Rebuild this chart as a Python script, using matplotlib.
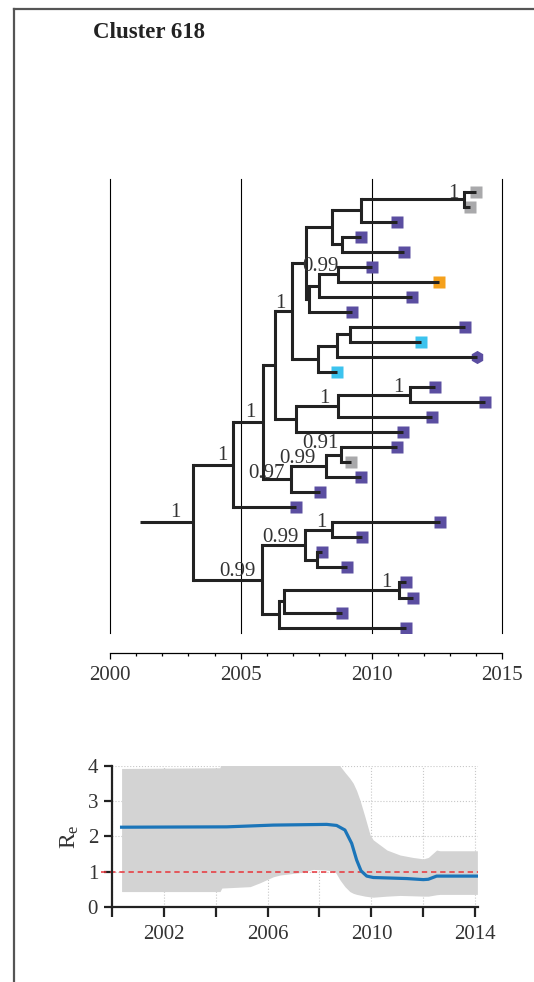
import matplotlib
matplotlib.use("Agg")
import matplotlib.pyplot as plt
import matplotlib.transforms as mtransforms
from matplotlib.lines import Line2D
from matplotlib.ticker import MultipleLocator

plt.rcParams['font.family'] = ['Liberation Serif', 'DejaVu Serif']
plt.rcParams['mathtext.default'] = 'regular'

# ---- tree data (tips listed top to bottom) ----
tip_dates = [2013.98, 2013.77, 2010.96, 2009.59, 2011.23, 2010.00, 2012.58, 2011.54,
             2009.24, 2013.58, 2011.88, 2014.02, 2008.69, 2012.43, 2014.34, 2012.30,
             2011.19, 2010.96, 2009.20, 2009.60, 2008.03, 2007.11, 2012.62, 2009.63,
             2008.10, 2009.05, 2011.32, 2011.58, 2008.86, 2011.32]
tip_groups = ['gray', 'gray', 'purple', 'purple', 'purple', 'purple', 'orange', 'purple',
              'purple', 'purple', 'cyan', 'hex', 'cyan', 'purple', 'purple', 'purple',
              'purple', 'purple', 'gray', 'purple', 'purple', 'purple', 'purple', 'purple',
              'purple', 'purple', 'purple', 'purple', 'purple', 'purple']

# internal nodes: (name, upper child, lower child, date, posterior support)
nodes = [
    ("A", "t0", "t1", 2013.54, "1"),
    ("B", "A", "t2", 2009.60, None),
    ("C", "t3", "t4", 2008.86, None),
    ("D", "B", "C", 2008.49, None),
    ("E", "t5", "t6", 2008.73, "0.99"),
    ("F", "E", "t7", 2008.00, None),
    ("G", "F", "t8", 2007.62, None),
    ("H", "D", "G", 2007.50, None),
    ("I", "t9", "t10", 2009.18, None),
    ("J", "I", "t11", 2008.69, None),
    ("K", "J", "t12", 2007.94, None),
    ("L", "H", "K", 2006.95, "1"),
    ("M", "t13", "t14", 2011.47, "1"),
    ("N", "M", "t15", 2008.70, "1"),
    ("O", "N", "t16", 2007.10, None),
    ("P", "L", "O", 2006.31, None),
    ("Q", "t17", "t18", 2008.82, "0.91"),
    ("R", "Q", "t19", 2008.26, "0.99"),
    ("S", "R", "t20", 2006.91, "0.97"),
    ("T", "P", "S", 2005.86, "1"),
    ("U", "T", "t21", 2004.71, "1"),
    ("V", "t22", "t23", 2008.50, "1"),
    ("W", "t24", "t25", 2007.92, None),
    ("X", "V", "W", 2007.46, "0.99"),
    ("Y", "t26", "t27", 2011.05, "1"),
    ("Z", "Y", "t28", 2006.67, None),
    ("AA", "Z", "t29", 2006.46, None),
    ("AB", "X", "AA", 2005.82, "0.99"),
    ("ROOT", "U", "AB", 2003.19, "1"),
]
root_start = 2001.15

tree_ticks = [2000, 2005, 2010, 2015]

# ---- Re data ----
re_years = [2000.38, 2004.43, 2006.22, 2008.28, 2008.66, 2008.98, 2009.24, 2009.43,
            2009.60, 2009.82, 2010.07, 2011.36, 2012.00, 2012.19, 2012.51, 2014.08]
re_median = [2.26, 2.27, 2.32, 2.34, 2.31, 2.18, 1.80, 1.33,
             1.02, 0.87, 0.83, 0.80, 0.77, 0.78, 0.87, 0.87]
band_years = [2000.38, 2004.17, 2004.24, 2005.33, 2005.71, 2006.22, 2006.48, 2007.25,
              2007.76, 2008.28, 2008.60, 2008.79, 2008.98, 2009.17, 2009.30, 2009.43,
              2009.56, 2009.75, 2009.95, 2010.07, 2010.60, 2011.10, 2011.60, 2012.00,
              2012.19, 2012.51, 2012.64, 2014.08]
band_lower = [0.43, 0.43, 0.53, 0.57, 0.68, 0.85, 0.90, 0.97,
              1.06, 1.04, 1.00, 0.76, 0.57, 0.43, 0.38, 0.35,
              0.33, 0.30, 0.28, 0.27, 0.30, 0.32, 0.31, 0.30,
              0.30, 0.34, 0.35, 0.35]
band_upper = [3.93, 3.95, 4.30, 4.30, 4.30, 4.30, 4.30, 4.30,
              4.30, 4.30, 4.20, 4.00, 3.82, 3.65, 3.51, 3.30,
              3.03, 2.56, 2.04, 1.90, 1.61, 1.47, 1.40, 1.36,
              1.40, 1.61, 1.59, 1.59]
re_ticks = [2000, 2002, 2004, 2006, 2008, 2010, 2012, 2014]
re_ticklabels = ['', '2002', '', '2006', '', '2010', '', '2014']

colors = {'gray': '#a9a9ab', 'purple': '#5b4ea1', 'orange': '#f5a11c',
          'cyan': '#3cc3ee', 'hex': '#5b4ea1'}
txt = '#333333'

# pixel nudges for support labels (default: 6 px left, 3 px above the branch)
label_nudge = {"E": (0, 3), "Q": (-2, 7), "R": (-10, 3), "S": (-6, 1.5),
               "T": (-8, 5), "U": (-6, 5), "ROOT": (-13, 5), "A": (-6, 1),
               "N": (-8, 3), "Y": (-7, 3), "AB": (-7, 3.5)}

W, H = 534, 982
fig = plt.figure(figsize=(W / 100, H / 100), dpi=100)

# frame lines
fig.add_artist(Line2D([14 / W, 14 / W], [0, 1 - 9 / H], color='#555555', lw=1.6))
fig.add_artist(Line2D([14 / W, 1], [1 - 9 / H, 1 - 9 / H], color='#555555', lw=1.6))

fig.text(93 / W, 1 - 32 / H, 'Cluster 618', fontsize=16.5, fontweight='bold',
         color='#222222', va='center', ha='left')

# ---- tree ----
ax = fig.add_axes([110 / W, 1 - 633 / H, 392.3 / W, 454 / H])
ax.set_xlim(2000, 2015)
ax.set_ylim(29.36, -0.845)

ypos = {}
xpos = {}
for i, d in enumerate(tip_dates):
    ypos["t%d" % i] = i
    xpos["t%d" % i] = d

lw_branch = 2.2
for name, c1, c2, d, sup in nodes:
    ypos[name] = (ypos[c1] + ypos[c2]) / 2
    xpos[name] = d
    ax.plot([d, d], [ypos[c1], ypos[c2]], color='#222222', lw=lw_branch,
            solid_capstyle='projecting', zorder=3)
    for c in (c1, c2):
        ax.plot([d, xpos[c]], [ypos[c], ypos[c]], color='#222222', lw=lw_branch,
                solid_capstyle='butt', zorder=3)
ax.plot([root_start, xpos["ROOT"]], [ypos["ROOT"], ypos["ROOT"]], color='#222222',
        lw=lw_branch, solid_capstyle='butt', zorder=3)

for i, (d, g) in enumerate(zip(tip_dates, tip_groups)):
    ax.plot(d, i, marker='h' if g == 'hex' else 's', ms=9.5 if g == 'hex' else 8.6,
            color=colors[g], mec='none', zorder=2)

for name, c1, c2, d, sup in nodes:
    if sup is None:
        continue
    dx, dy = label_nudge.get(name, (-6, 3))
    tr = mtransforms.offset_copy(ax.transData, fig=fig, x=dx, y=dy, units='dots')
    ax.text(d, ypos[name], sup, transform=tr, ha='right', va='baseline',
            fontsize=15, color=txt, zorder=4)

for t in tree_ticks:
    ax.axvline(t, color='black', lw=0.8, clip_on=False, zorder=1)

for s in ['top', 'left', 'right']:
    ax.spines[s].set_visible(False)
ax.spines['bottom'].set_position(('outward', 14.2))
ax.spines['bottom'].set_linewidth(0.9)
ax.set_yticks([])
ax.set_xticks(tree_ticks)
ax.xaxis.set_minor_locator(MultipleLocator(1))
ax.tick_params(axis='x', which='major', length=4.2, width=0.9, pad=5,
               labelsize=15, labelcolor=txt)
ax.tick_params(axis='x', which='minor', length=2.2, width=0.9)

# ---- Re panel ----
ax2 = fig.add_axes([111.7 / W, 1 - 906.7 / H, 366.2 / W, 140.7 / H])
ax2.set_xlim(2000, 2014.1)
ax2.set_ylim(0, 4)
ax2.fill_between(band_years, band_lower, band_upper, color='#d3d3d3', lw=0, zorder=1)
ax2.axhline(1, color='#e8343a', lw=1.1, dashes=(3.5, 2.5), zorder=2, clip_on=False,
            xmin=-0.03)
ax2.plot(re_years, re_median, color='#1b75b9', lw=2.3, zorder=3)
ax2.set_xticks(re_ticks)
ax2.set_xticklabels(re_ticklabels)
ax2.set_yticks([0, 1, 2, 3, 4])
ax2.grid(True, color='#c8c8c8', lw=0.8, linestyle=':', zorder=0)
ax2.set_axisbelow(True)
for s in ['top', 'right']:
    ax2.spines[s].set_visible(False)
for s in ['left', 'bottom']:
    ax2.spines[s].set_linewidth(1.6)
    ax2.spines[s].set_color('#222222')
ax2.tick_params(axis='x', length=7, width=1.6, pad=6, labelsize=15,
                labelcolor=txt, color='#222222')
ax2.tick_params(axis='y', length=5.8, width=1.6, pad=4, labelsize=15,
                labelcolor=txt, color='#222222')
ax2.set_ylabel('R$_e$', fontsize=17, color=txt, labelpad=5)

fig.savefig('out.png', dpi=100)
